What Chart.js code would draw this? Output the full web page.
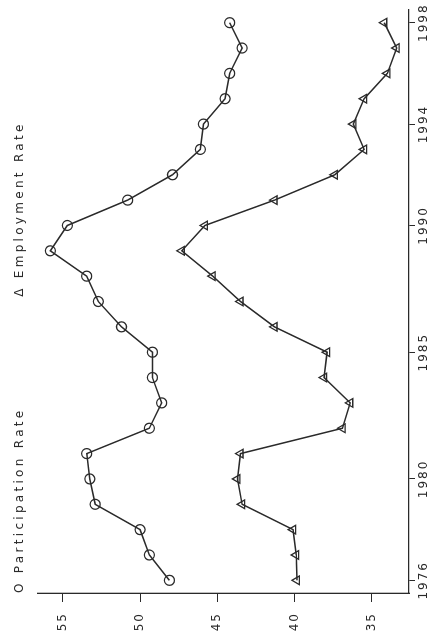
<!DOCTYPE html>
<html>
<head>
<meta charset="utf-8">
<script src="https://cdn.jsdelivr.net/npm/chart.js@4/dist/chart.umd.min.js"></script>
<style>
  html, body { margin: 0; padding: 0; background: #fff; overflow: hidden; }
  /* chart is drawn upright, then turned a quarter turn like the scanned page */
  #wrap {
    position: absolute; left: 0; top: 0;
    width: 638px; height: 434px;
    transform-origin: 0 0;
    transform: translateY(638px) rotate(-90deg);
  }
  canvas { filter: blur(0.3px); }
</style>
</head>
<body>
<div id="wrap"><canvas id="rates" width="638" height="434"></canvas></div>
<script>
const years = [1976, 1977, 1978, 1979, 1980, 1981, 1982, 1983, 1984, 1985, 1986, 1987,
  1988, 1989, 1990, 1991, 1992, 1993, 1994, 1995, 1996, 1997, 1998];
const participation = [48.1, 49.4, 50.0, 52.9, 53.25, 53.45, 49.4, 48.6, 49.2, 49.2, 51.2, 52.7,
  53.45, 55.8, 54.7, 50.8, 47.9, 46.1, 45.9, 44.5, 44.2, 43.4, 44.2];
const employment = [39.85, 39.9, 40.1, 43.4, 43.7, 43.5, 36.9, 36.4, 38.1, 37.9, 41.3, 43.5,
  45.3, 47.3, 45.8, 41.3, 37.4, 35.5, 36.2, 35.5, 34.0, 33.4, 34.2];
const yearTicks = [1976, 1980, 1985, 1990, 1994, 1998];
const valueTicks = [35, 40, 45, 50, 55];
const legendLabels = ["O Participation Rate", "\u0394 Employment Rate"];

const ink = "#2a2a2a";
const font = { family: "'DejaVu Sans', sans-serif", size: 12 };

function toPoints(arr) {
  return arr.map((v, i) => ({ x: years[i], y: v }));
}

// spaced out lettering + legend written above the plot, like the original
const typewriter = {
  id: "typewriter",
  beforeDraw(chart) {
    chart.ctx.letterSpacing = "2px";
  },
  afterDraw(chart) {
    const ctx = chart.ctx;
    const area = chart.chartArea;
    ctx.save();
    ctx.font = "12px 'DejaVu Sans', sans-serif";
    ctx.letterSpacing = "3.3px";
    ctx.fillStyle = ink;
    ctx.textBaseline = "middle";
    ctx.textAlign = "left";
    ctx.fillText(legendLabels[0], area.left, 20);
    ctx.fillText(legendLabels[1], area.left + area.width * 0.508, 20);
    ctx.restore();
  },
};

new Chart(document.getElementById("rates"), {
  type: "line",
  data: {
    datasets: [
      {
        label: "Participation Rate",
        data: toPoints(participation),
        borderColor: ink,
        borderWidth: 1.5,
        pointStyle: "circle",
        pointRadius: 5,
        pointBorderWidth: 1.3,
        pointBorderColor: ink,
        pointBackgroundColor: "rgba(255,255,255,0)",
        tension: 0,
      },
      {
        label: "Employment Rate",
        data: toPoints(employment),
        borderColor: ink,
        borderWidth: 1.5,
        pointStyle: "triangle",
        pointRadius: 5,
        pointBorderWidth: 1.3,
        pointBorderColor: ink,
        pointBackgroundColor: "rgba(255,255,255,0)",
        tension: 0,
      },
    ],
  },
  options: {
    responsive: false,
    animation: false,
    layout: { padding: { top: 38, right: 10, left: 0, bottom: 0 } },
    plugins: {
      legend: { display: false },
      tooltip: { enabled: false },
    },
    scales: {
      x: {
        type: "linear",
        min: 1975.5,
        max: 1998.5,
        afterBuildTicks: (scale) => {
          scale.ticks = yearTicks.map((v) => ({ value: v }));
        },
        afterFit: (scale) => { scale.height = 25; },
        grid: { drawOnChartArea: false, tickLength: 6, color: ink },
        border: { color: ink, width: 1.3 },
        ticks: {
          color: ink,
          font: font,
          padding: 2,
          maxRotation: 0,
          callback: (v) => String(v),
        },
      },
      y: {
        type: "linear",
        min: 32.6,
        max: 56.6,
        afterBuildTicks: (scale) => {
          scale.ticks = valueTicks.map((v) => ({ value: v }));
        },
        afterFit: (scale) => { scale.width = 45; },
        grid: { drawOnChartArea: false, tickLength: 9, color: ink },
        border: { color: ink, width: 1.3 },
        ticks: {
          color: ink,
          font: font,
          padding: 10,
          callback: (v) => String(v),
        },
      },
    },
  },
  plugins: [typewriter],
});
</script>
</body>
</html>
